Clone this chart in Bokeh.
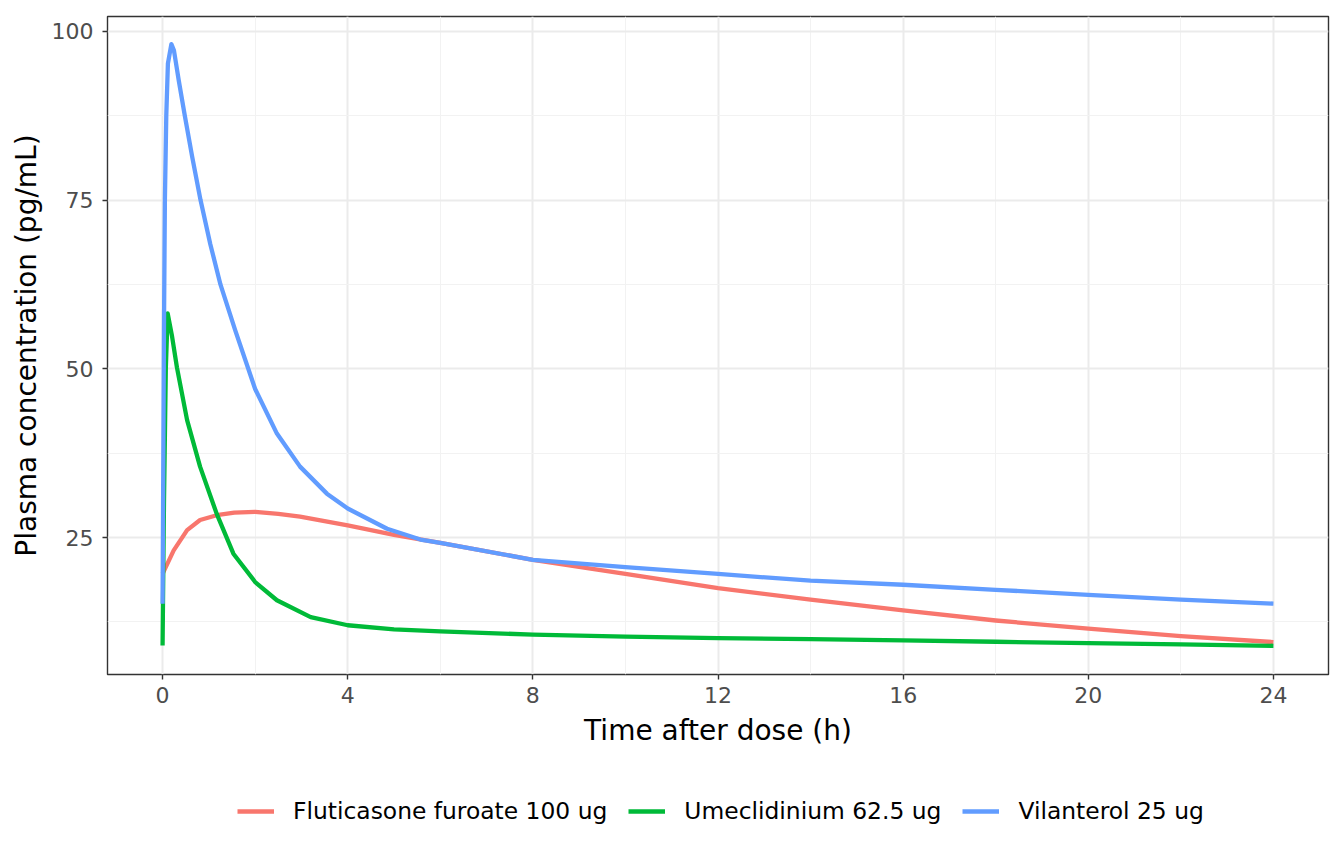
from bokeh.embed import file_html
from bokeh.resources import INLINE
from bokeh.plotting import figure
from bokeh.layouts import column
from bokeh.models import FixedTicker, Range1d, Legend, LegendItem

# Fluticasone furoate 100 ug
t_flu = [0, 0.24, 0.53, 0.81, 1.17, 1.55, 2, 2.5, 2.97, 4, 5, 6,
         8, 10, 12, 14, 16, 18, 20, 22, 24]
c_flu = [19.6, 23.1, 26.1, 27.6, 28.3, 28.7, 28.8, 28.5, 28.1, 26.8, 25.4, 24.2,
         21.7, 19.6, 17.5, 15.8, 14.2, 12.7, 11.5, 10.4, 9.5]

# Umeclidinium 62.5 ug
t_ume = [0, 0.03, 0.07, 0.11, 0.2, 0.31, 0.53, 0.81, 1.17, 1.53, 2, 2.47, 3.2,
         4, 5, 6, 8, 10, 12, 14, 16, 18, 20, 22, 24]
c_ume = [9.0, 30, 50, 58.2, 55.0, 50.2, 42.4, 35.5, 28.5, 22.6, 18.4, 15.7, 13.2,
         12.0, 11.4, 11.1, 10.6, 10.3, 10.1, 9.95, 9.75, 9.55, 9.35, 9.15, 8.95]

# Vilanterol 25 ug
t_vil = [0, 0.03, 0.05, 0.08, 0.115, 0.19, 0.245, 0.35, 0.48, 0.64, 0.82, 1.03,
         1.25, 1.57, 2, 2.47, 2.97, 3.55, 4, 4.85, 5.57, 6, 8, 10, 12, 14, 16, 18,
         20, 22, 24]
c_vil = [15.2, 55.7, 75, 87.5, 95.2, 98.1, 97.2, 92.7, 87.5, 81.4, 75.0, 68.5,
         62.5, 55.7, 47.0, 40.4, 35.5, 31.5, 29.3, 26.3, 24.7, 24.2, 21.7, 20.6,
         19.6, 18.6, 18.0, 17.25, 16.5, 15.8, 15.2]

labels = ["Fluticasone furoate 100 ug", "Umeclidinium 62.5 ug", "Vilanterol 25 ug"]
colors = ["#F8766D", "#00BA38", "#619CFF"]

x_ticks = [0, 4, 8, 12, 16, 20, 24]
x_minor = [2, 6, 10, 14, 18, 22]
y_ticks = [25, 50, 75, 100]
y_minor = [12.5, 37.5, 62.5, 87.5]

series = list(zip([t_flu, t_ume, t_vil], [c_flu, c_ume, c_vil], labels, colors))

FONT = "DejaVu Sans"
W = 1340

p = figure(width=W, height=760, output_backend="svg", toolbar_location=None,
           x_range=Range1d(-1.19, 25.19), y_range=Range1d(4.7, 102.2),
           min_border_left=107, min_border_right=12, min_border_top=16,
           min_border_bottom=86)

p.background_fill_color = "white"
p.border_fill_color = "white"
p.outline_line_color = "#333333"
p.outline_line_width = 1.4

p.xaxis.ticker = FixedTicker(ticks=x_ticks, minor_ticks=x_minor)
p.yaxis.ticker = FixedTicker(ticks=y_ticks, minor_ticks=y_minor)

p.xgrid.grid_line_color = "#EBEBEB"
p.ygrid.grid_line_color = "#EBEBEB"
p.xgrid.grid_line_width = 2
p.ygrid.grid_line_width = 2
p.xgrid.minor_grid_line_color = "#F2F2F2"
p.ygrid.minor_grid_line_color = "#F2F2F2"
p.xgrid.minor_grid_line_width = 1
p.ygrid.minor_grid_line_width = 1

for ax in (p.xaxis, p.yaxis):
    ax.axis_line_color = None
    ax.major_tick_line_color = "#333333"
    ax.major_tick_line_width = 1.4
    ax.major_tick_out = 5
    ax.major_tick_in = 0
    ax.minor_tick_line_color = None
    ax.major_label_text_font = FONT
    ax.major_label_text_font_size = "22px"
    ax.major_label_text_color = "#4D4D4D"
    ax.axis_label_text_font = FONT
    ax.axis_label_text_font_size = "28px"
    ax.axis_label_text_font_style = "normal"
    ax.axis_label_text_color = "black"

p.xaxis.axis_label = "Time after dose (h)"
p.yaxis.axis_label = "Plasma concentration (pg/mL)"
p.xaxis.major_label_standoff = 7
p.xaxis.axis_label_standoff = 8
p.yaxis.major_label_standoff = 9
p.yaxis.axis_label_standoff = 6

for t, c, lab, col in series:
    p.line(t, c, line_color=col, line_width=4.3, line_join="round")

# legend strip under the chart; its lines lie outside the visible ranges
leg = figure(width=W, height=100, output_backend="svg", toolbar_location=None,
             x_range=Range1d(1000, 1001), y_range=Range1d(1000, 1001),
             min_border=0)
leg.axis.visible = False
leg.grid.visible = False
leg.outline_line_color = None
leg.background_fill_color = "white"
leg.border_fill_color = "white"

items = []
for t, c, lab, col in series:
    r = leg.line(t, c, line_color=col, line_width=4.3)
    items.append(LegendItem(label=lab, renderers=[r]))

legend = Legend(items=items, orientation="horizontal", location=(130, 35))
legend.border_line_color = None
legend.background_fill_alpha = 0
legend.label_text_font = FONT
legend.label_text_font_size = "23.4px"
legend.label_text_color = "black"
legend.glyph_width = 37
legend.glyph_height = 24
legend.label_standoff = 19
legend.spacing = 21
legend.padding = 10
legend.margin = 0
leg.add_layout(legend, "center")

layout = column(p, leg, spacing=0)
open("out.html", "w").write(file_html(layout, INLINE))
